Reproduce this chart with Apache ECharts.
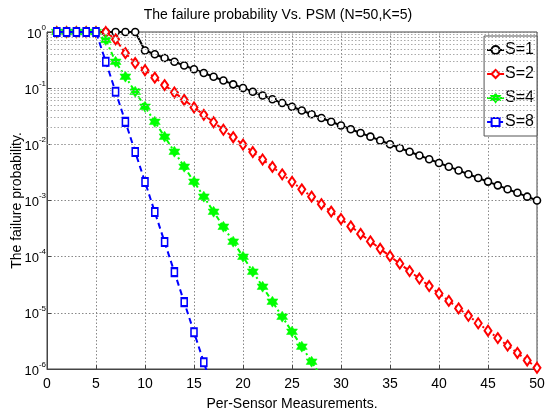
<!DOCTYPE html>
<html>
<head>
<meta charset="utf-8">
<script src="https://cdn.jsdelivr.net/npm/echarts@6/dist/echarts.min.js"></script>
<style>html,body{margin:0;padding:0;background:#fff}#c{width:556px;height:414px}</style>
</head>
<body>
<div id="c"></div>
<script>
const NARROW = '"Liberation Sans Narrow","Arial Narrow","Liberation Sans",sans-serif';
const SANS = '"Liberation Sans",Arial,sans-serif';

const titleText = 'The failure probability Vs. PSM (N=50,K=5)';
const xName = 'Per-Sensor Measurements.';
const yName = 'The failure probability.';
const seriesNames = ['S=1', 'S=2', 'S=4', 'S=8'];
const xTicks = [0, 5, 10, 15, 20, 25, 30, 35, 40, 45, 50];

// S=1 : x = 1..50
const xS1 = [1,2,3,4,5,6,7,8,9,10,11,12,13,14,15,16,17,18,19,20,21,22,23,24,25,26,27,28,29,30,31,32,33,34,35,36,37,38,39,40,41,42,43,44,45,46,47,48,49,50];
const yS1 = [1,1,1,1,1,1,1,1,1,0.468,0.401,0.344,0.295,0.253,0.217,0.186,0.160,0.137,0.117,0.1005,0.0862,0.0739,0.0634,0.0544,0.0466,0.0400,0.0343,0.0294,0.0252,0.0216,0.0186,0.0159,0.0137,0.0117,0.01005,0.00862,0.00739,0.00634,0.00544,0.00466,0.00400,0.00343,0.00294,0.00252,0.00217,0.00186,0.00159,0.00137,0.00117,0.00100];
// S=2 : x = 1..50
const xS2 = xS1;
const yS2 = [1,1,1,1,1,1,0.74,0.42,0.28,0.209,0.154,0.1135,0.0837,0.0617,0.0455,0.0335,0.0247,0.0182,0.0134,0.00989,0.00729,0.00537,0.00396,0.00292,0.00215,0.00158,0.00117,0.000861,0.000635,0.000468,0.000345,0.000254,0.000187,0.000138,0.000102,7.50e-5,5.53e-5,4.08e-5,3.00e-5,2.21e-5,1.63e-5,1.20e-5,8.86e-6,6.53e-6,4.81e-6,3.55e-6,2.61e-6,1.93e-6,1.42e-6,1.05e-6];
// S=4 : x = 1..28
const xS4 = [1,2,3,4,5,6,7,8,9,10,11,12,13,14,15,16,17,18,19,20,21,22,23,24,25,26,27,28];
const yS4 = [1,1,1,1,1,0.72,0.295,0.160,0.0863,0.0467,0.0252,0.0137,0.00738,0.00399,0.00216,0.00117,0.000631,0.000341,0.000185,9.98e-5,5.40e-5,2.92e-5,1.58e-5,8.53e-6,4.61e-6,2.50e-6,1.35e-6,7.3e-7];
// S=8 : x = 1..17
const xS8 = [1,2,3,4,5,6,7,8,9,10,11,12,13,14,15,16,17];
const yS8 = [1,1,1,1,1,0.295,0.0861,0.0251,0.00732,0.00214,0.000623,0.000182,5.30e-5,1.55e-5,4.51e-6,1.32e-6,3.8e-7];

const minorMultipliers = [2,3,4,5,6,7,8,9];
const decades = [1e-6,1e-5,1e-4,1e-3,1e-2,1e-1];

function pairs(xs, ys){ return xs.map((x,i)=>[x, ys[i]]); }

const minorLines = [];
decades.forEach(d => minorMultipliers.forEach(m => minorLines.push({yAxis: +(d*m).toPrecision(3)})));

const STAR = 'path://M0,-10L2.9,-5L8.66,-5L5.8,0L8.66,5L2.9,5L0,10L-2.9,5L-8.66,5L-5.8,0L-8.66,-5L-2.9,-5Z';

const chart = echarts.init(document.getElementById('c'), null, {renderer: 'canvas'});
chart.setOption({
  animation: false,
  backgroundColor: '#fff',
  title: {
    text: titleText, left: 'center', top: 3,
    textStyle: {fontFamily: NARROW, fontSize: 14, fontWeight: 'normal', color: '#000'}
  },
  legend: {
    data: seriesNames,
    orient: 'vertical',
    right: 19, top: 36,
    itemWidth: 17, itemHeight: 10, itemGap: 8,
    padding: [6, 3, 6, 2],
    backgroundColor: '#fff',
    borderColor: '#555', borderWidth: 1,
    textStyle: {fontFamily: NARROW, fontSize: 16, color: '#000', padding: [0,0,0,-4]}
  },
  grid: {left: 47, right: 19, top: 32, bottom: 45, show: true, borderColor: '#444', borderWidth: 1,
    containLabel: false, outerBoundsMode: 'none'},
  xAxis: {
    type: 'value', min: 0, max: 50, interval: 5,
    name: xName, nameLocation: 'middle', nameGap: 28, nameMoveOverlap: false,
    nameTextStyle: {fontFamily: NARROW, fontSize: 14, color: '#000'},
    axisLine: {show: true, lineStyle: {color: '#444'}},
    axisTick: {inside: true, length: 4, lineStyle: {color: '#444'}},
    axisLabel: {fontFamily: NARROW, fontSize: 14, color: '#000', margin: 8,
      formatter: v => xTicks.includes(v) ? String(v) : ''},
    splitLine: {show: true, lineStyle: {color: '#888', type: [1.5, 2], width: 1}}
  },
  yAxis: {
    type: 'log', logBase: 10, min: 1e-6, max: 1,
    name: yName, nameLocation: 'middle', nameGap: 23, nameMoveOverlap: false,
    nameTextStyle: {fontFamily: SANS, fontSize: 14, color: '#000'},
    axisLine: {show: true, lineStyle: {color: '#444'}},
    axisTick: {inside: true, length: 4, lineStyle: {color: '#444'}},
    axisLabel: {
      margin: 1, color: '#000',
      formatter: v => '{b|10}{s|' + Math.round(Math.log10(v)) + '}',
      rich: {
        b: {fontFamily: NARROW, fontSize: 13, color: '#000', lineHeight: 17, verticalAlign: 'bottom'},
        s: {fontFamily: NARROW, fontSize: 8, color: '#000', lineHeight: 17, verticalAlign: 'top'}
      }
    },
    splitLine: {show: true, lineStyle: {color: '#888', type: [1.5, 2], width: 1}}
  },
  series: [
    {
      name: 'minor', type: 'line', data: [[0, 1]], showSymbol: false, silent: true,
      lineStyle: {opacity: 0}, z: 1,
      markLine: {
        silent: true, symbol: 'none', label: {show: false}, animation: false,
        lineStyle: {color: '#aaa', type: [1.5, 2], width: 1},
        data: minorLines
      }
    },
    {
      name: seriesNames[0], type: 'line', data: pairs(xS1, yS1),
      symbol: 'circle', symbolSize: 7, showAllSymbol: true,
      lineStyle: {color: '#000', width: 2, type: 'solid'},
      itemStyle: {color: '#fff', borderColor: '#000', borderWidth: 1.6},
      z: 2
    },
    {
      name: seriesNames[1], type: 'line', data: pairs(xS2, yS2),
      symbol: 'diamond', symbolSize: [7, 10], showAllSymbol: true,
      lineStyle: {color: '#ff0000', width: 2, type: [5, 3, 2, 3]},
      itemStyle: {color: '#fff', borderColor: '#ff0000', borderWidth: 2},
      z: 3
    },
    {
      name: seriesNames[2], type: 'line', data: pairs(xS4, yS4),
      symbol: STAR, symbolSize: 11, showAllSymbol: true,
      lineStyle: {color: '#00ff00', width: 2, type: [5, 3, 2, 3]},
      itemStyle: {color: '#00ff00', borderColor: '#00ff00', borderWidth: 0.5},
      z: 4
    },
    {
      name: seriesNames[3], type: 'line', data: pairs(xS8, yS8),
      symbol: 'rect', symbolSize: [6, 8], showAllSymbol: true,
      lineStyle: {color: '#0000ff', width: 2, type: [6, 4]},
      itemStyle: {color: '#fff', borderColor: '#0000ff', borderWidth: 1.8},
      z: 5
    }
  ]
});
</script>
</body>
</html>
